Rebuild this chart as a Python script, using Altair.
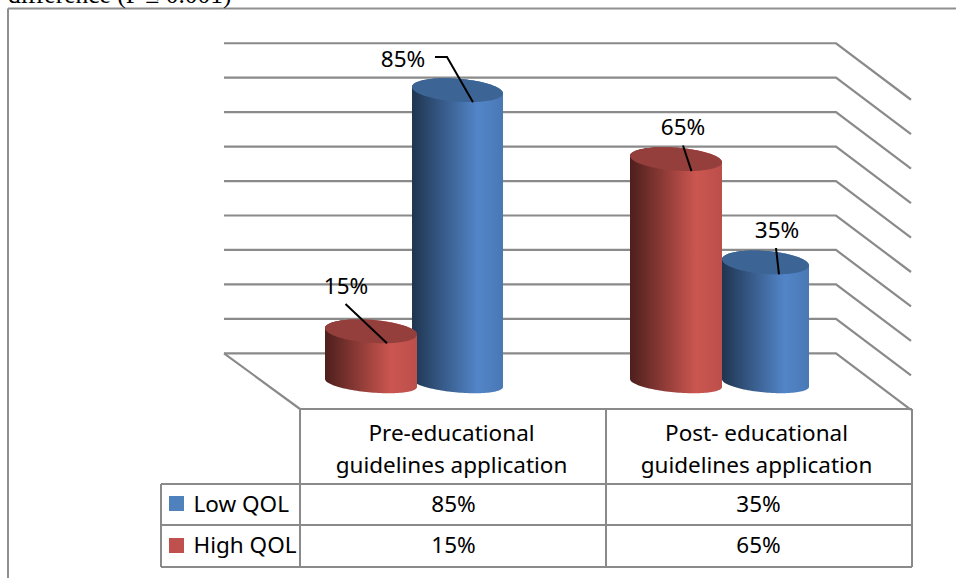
import math
import altair as alt
import pandas as pd

W, H = 956, 578

# Chart values
categories = ["Pre-educational guidelines application", "Post- educational guidelines application"]
category_lines = [["Pre-educational", "guidelines application"], ["Post- educational", "guidelines application"]]
low_qol = [85, 35]
high_qol = [15, 65]
series_names = ["Low QOL", "High QOL"]
grid_levels = [0, 10, 20, 30, 40, 50, 60, 70, 80, 90]

# Scene geometry
PX_PER_PCT = 3.445
BASE_Y = 383
FONT = "Noto Sans"
FONT_SIZE = 22.5
GREY = "#8a8a8a"
BLUE, RED = "#4f81bd", "#c0504d"
centers = {"Low QOL": [457.5, 765.5], "High QOL": [371, 676]}
half_widths = {"Low QOL": [45.5, 43.5], "High QOL": [46, 46]}
label_pos = {"Low QOL": [(403, 60), (777, 231)], "High QOL": [(346, 287), (683, 128)]}
leader_starts = {
    "Low QOL": [[(435, 57), (447, 57)], [(776, 248)]],
    "High QOL": [[(345.5, 304)], [(683, 145.5)]],
}
leader_end_dx = {"Low QOL": [15.5, 13.5], "High QOL": [16, 15.5]}

x_px = alt.X("x:Q", scale=alt.Scale(domain=[0, W]), axis=None)
x2_px = alt.X2("x2:Q")
y_px = alt.Y("y:Q", scale=alt.Scale(domain=[H, 0]), axis=None)
y2_px = alt.Y2("y2:Q")
pct_domain = [(BASE_Y - H) / PX_PER_PCT, BASE_Y / PX_PER_PCT]
y_pct = alt.Y("y:Q", scale=alt.Scale(domain=pct_domain, zero=False, nice=False), axis=None)
y2_pct = alt.Y2("y2:Q")


def shade(dark, mid, end):
    return alt.Gradient(
        gradient="linear", x1=0, x2=1, y1=0, y2=0,
        stops=[
            alt.GradientStop(color=dark, offset=0),
            alt.GradientStop(color=mid, offset=0.72),
            alt.GradientStop(color=end, offset=1),
        ],
    )


def arc_offsets(half_w, ry, tilt, n=60):
    """Sheared ellipse: x offset, upper and lower edge in pixels from its centre."""
    out = []
    for i in range(n + 1):
        c = -math.cos(math.pi * i / n)
        dx = half_w * c
        h = ry * math.sqrt(max(0, 1 - c * c))
        out.append((dx, tilt * dx - h, tilt * dx + h))
    return out


def cylinder_tables(name, values):
    body, cap = [], []
    for i, v in enumerate(values):
        cx, hw = centers[name][i], half_widths[name][i]
        tops = arc_offsets(hw, 11.5, 0.07)
        feet = arc_offsets(hw, 9.5, 0.085)
        for (dx, up, low), (_, _, foot) in zip(tops, feet):
            body.append({"id": i, "x": cx + dx, "y": v - up / PX_PER_PCT, "y2": -foot / PX_PER_PCT})
            cap.append({"id": i, "x": cx + dx, "y": v - up / PX_PER_PCT, "y2": v - low / PX_PER_PCT})
    return pd.DataFrame(body), pd.DataFrame(cap)


def cylinders(name, values, fill, cap_color):
    body, cap = cylinder_tables(name, values)
    enc = dict(x=x_px, y=y_pct, y2=y2_pct, detail="id:N")
    return [
        alt.Chart(body).mark_area(color=fill, orient="vertical").encode(**enc),
        alt.Chart(cap).mark_area(color=cap_color, orient="vertical").encode(**enc),
    ]


# Gridlines run along the back wall and slant down the right-hand wall
BACK_Y, WALL_L, WALL_R, FRONT_R = 353.3, 224, 836, 911
grid_rows = []
for lvl in grid_levels:
    y0 = BACK_Y - lvl * PX_PER_PCT
    grid_rows += [
        {"id": lvl, "x": WALL_L, "y": y0},
        {"id": lvl, "x": WALL_R, "y": y0},
        {"id": lvl, "x": FRONT_R, "y": y0 + 56.5},
    ]
grid_rows += [{"id": "floor", "x": WALL_L, "y": BACK_Y}, {"id": "floor", "x": 300, "y": 409}]
grid = alt.Chart(pd.DataFrame(grid_rows)).mark_line(color=GREY, strokeWidth=2.2).encode(
    x=x_px, y=y_px, detail="id:N"
)

# Outer frame and data table rules
COL_L, COL_M, COL_R = 300, 606, 912
LEG_L = 161
ROW_HEAD, ROW_1, ROW_2, ROW_3 = 409, 484, 525, 567
rules_table = pd.DataFrame(
    [
        {"x": COL_L, "x2": COL_R, "y": ROW_HEAD, "y2": ROW_HEAD},
        {"x": LEG_L, "x2": COL_R, "y": ROW_1, "y2": ROW_1},
        {"x": LEG_L, "x2": COL_R, "y": ROW_2, "y2": ROW_2},
        {"x": LEG_L, "x2": COL_R, "y": ROW_3, "y2": ROW_3},
        {"x": LEG_L, "x2": LEG_L, "y": ROW_1, "y2": ROW_3},
        {"x": COL_L, "x2": COL_L, "y": ROW_HEAD, "y2": ROW_3},
        {"x": COL_M, "x2": COL_M, "y": ROW_HEAD, "y2": ROW_3},
        {"x": COL_R, "x2": COL_R, "y": ROW_HEAD, "y2": ROW_3},
    ]
)
table_rules = alt.Chart(rules_table).mark_rule(color=GREY, strokeWidth=2).encode(
    x=x_px, x2=x2_px, y=y_px, y2=y2_px
)
frame_table = pd.DataFrame(
    [
        {"x": 8, "x2": 956, "y": 8.5, "y2": 8.5},
        {"x": 8, "x2": 8, "y": 8.5, "y2": 578},
    ]
)
frame = alt.Chart(frame_table).mark_rule(color="#8f8f8f", strokeWidth=2).encode(
    x=x_px, x2=x2_px, y=y_px, y2=y2_px
)

# Leader lines from each data label to its cylinder cap
leader_rows = []
for name, values in zip(series_names, [low_qol, high_qol]):
    for i, v in enumerate(values):
        key = f"{name}-{i}"
        for px, py in leader_starts[name][i]:
            leader_rows.append({"id": key, "x": px, "y": py})
        leader_rows.append(
            {
                "id": key,
                "x": centers[name][i] + leader_end_dx[name][i],
                "y": BASE_Y - v * PX_PER_PCT + 12,
            }
        )
leaders = alt.Chart(pd.DataFrame(leader_rows)).mark_line(color="black", strokeWidth=2).encode(
    x=x_px, y=y_px, detail="id:N"
)

# Every piece of text in the scene
text_rows = [
    {"x": 8, "y": 3, "t": "difference (P \u2264 0.001)", "kind": "caption"},
]
for name, values in zip(series_names, [low_qol, high_qol]):
    for i, v in enumerate(values):
        px, py = label_pos[name][i]
        text_rows.append({"x": px, "y": py, "t": f"{v}%", "kind": "cell"})
col_centers = [451.5, 756.5]
for i, lines in enumerate(category_lines):
    text_rows.append({"x": col_centers[i], "y": 433.5, "t": lines[0], "kind": "cell"})
    text_rows.append({"x": col_centers[i], "y": 466, "t": lines[1], "kind": "cell"})
    text_rows.append({"x": col_centers[i] + 2, "y": 504.5, "t": f"{low_qol[i]}%", "kind": "cell"})
    text_rows.append({"x": col_centers[i] + 2, "y": 545.5, "t": f"{high_qol[i]}%", "kind": "cell"})
texts = pd.DataFrame(text_rows)
cell_text = alt.Chart(texts[texts.kind == "cell"]).mark_text(
    font=FONT, fontSize=FONT_SIZE, color="black", align="center", baseline="middle"
).encode(x=x_px, y=y_px, text="t:N")
caption = alt.Chart(texts[texts.kind == "caption"]).mark_text(
    font="Liberation Serif", fontSize=25.5, color="black", align="left", baseline="alphabetic"
).encode(x=x_px, y=y_px, text="t:N")
legend_text = alt.Chart(
    pd.DataFrame({"x": [193.5, 193.5], "y": [504.5, 545.5], "t": series_names})
).mark_text(font=FONT, fontSize=FONT_SIZE, color="black", align="left", baseline="middle").encode(
    x=x_px, y=y_px, text="t:N"
)

# Legend keys inside the table
keys = alt.Chart(
    pd.DataFrame(
        {"x": [169, 169], "x2": [184, 184], "y": [496, 538], "y2": [511, 553], "s": series_names}
    )
).mark_rect().encode(
    x=x_px, x2=x2_px, y=y_px, y2=y2_px,
    color=alt.Color("s:N", scale=alt.Scale(domain=series_names, range=[BLUE, RED]), legend=None),
)

blue_layers = cylinders("Low QOL", low_qol, shade("#1f3550", "#5285c8", "#4a78b5"), "#3c6595")
red_layers = cylinders("High QOL", high_qol, shade("#4d1f1c", "#cc5650", "#bb4f4b"), "#953f3c")

chart = (
    alt.layer(
        frame, caption, grid, table_rules, keys, legend_text, cell_text,
        *blue_layers, *red_layers, leaders,
    )
    .resolve_scale(y="independent", color="independent")
    .properties(width=W, height=H, padding=0, autosize=alt.AutoSizeParams(type="none"))
    .configure_view(stroke=None)
)

chart.save("out.html", embed_options={"renderer": "svg", "actions": False})
